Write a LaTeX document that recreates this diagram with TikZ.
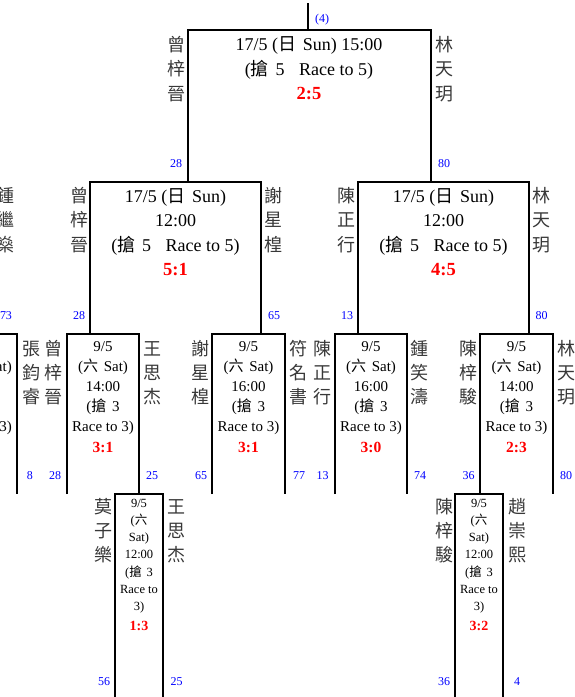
\documentclass[tikz,border=0pt]{standalone}
\usepackage{fontspec}
\setmainfont{Liberation Serif}
\newfontfamily\cjk{Noto Sans CJK TC}
\newcommand\cj[1]{{\cjk #1}\hspace{0.38em}}
\newcommand\vstack[6][]{%
  \foreach \lbl [count=\i from 0] in {#6}{%
    \node[anchor=base, inner sep=0pt, #1] (#2-\i) at ({#3},{#4+\i*#5}) {\lbl};}}
\newcommand\brk[5]{%
  \coordinate (#1-bl) at (#2,#5); \coordinate (#1-tl) at (#2,#4);
  \coordinate (#1-tr) at (#3,#4); \coordinate (#1-br) at (#3,#5);
  \draw[bracket] (#1-bl) -- (#1-tl) -- (#1-tr) -- (#1-br);}
\tikzset{
  bracket/.style={line width=2.6pt, line join=miter},
  bigtxt/.style={font=\fontsize{18}{18}\selectfont},
  midtxt/.style={font=\fontsize{15}{15}\selectfont},
  smalltxt/.style={font=\fontsize{12.5}{12.5}\selectfont},
  bigscore/.style={anchor=base, inner sep=0pt, font=\fontsize{18.5}{18.5}\selectfont\bfseries, text=red},
  midscore/.style={anchor=base, inner sep=0pt, font=\fontsize{15.5}{15.5}\selectfont\bfseries, text=red},
  smallscore/.style={anchor=base, inner sep=0pt, font=\fontsize{14}{14}\selectfont\bfseries, text=red},
  player/.style={font=\cjk\fontsize{18}{18}\selectfont, text=black!78},
  seed/.style={anchor=base, inner sep=0pt, font=\fontsize{12}{12}\selectfont, text=blue},
}
\begin{document}
\begin{tikzpicture}[x=1pt, y=-1pt]
\useasboundingbox (0,0) rectangle (574,697);
% champion (cut off at top)
\node[anchor=base, inner sep=0pt, font=\cjk\fontsize{26}{26}\selectfont] (champ) at (309,-2.6) {林天玥};
\coordinate (c4a) at (308,3); \coordinate (c4b) at (308,30);
\draw[bracket] (c4a) -- (c4b);
\node[seed, anchor=base west] (n4) at (315,22) {(4)};
% brackets
\brk{F}{188}{431}{30}{182}
\brk{SL}{90}{261}{182}{334}
\brk{SR}{358}{529}{182}{334}
\brk{QZ}{-60}{17}{334}{494}
\brk{QA}{67}{139}{334}{494}
\brk{QB}{212}{285}{334}{494}
\brk{QC}{335}{407}{334}{494}
\brk{QD}{480}{553}{334}{494}
\brk{RE}{115}{163}{494}{705}
\brk{RF}{455}{503}{494}{705}
% final
\vstack[bigtxt]{Ft}{309}{50}{25}{{17/5 (\cj{日}Sun) 15:00},{(\cj{搶}5\hspace{0.8em}Race to 5)}}
\node[bigscore] (Fs) at (309,99) {2:5};
\vstack[player]{FLp}{176}{51}{24.5}{曾,梓,晉}
\vstack[player]{FRp}{444}{51}{24.5}{林,天,玥}
\node[seed] (FLn) at (176,167) {28};
\node[seed] (FRn) at (444,167) {80};
% semi left
\vstack[bigtxt]{SLt}{175.5}{202}{24.5}{{17/5 (\cj{日}Sun)},{12:00},{(\cj{搶}5\hspace{0.8em}Race to 5)}}
\node[bigscore] (SLs) at (175.5,275) {5:1};
\vstack[player]{SZp}{6}{202}{24.5}{鍾,繼,燊}
\vstack[player]{SLp}{79.5}{202}{24.5}{曾,梓,晉}
\vstack[player]{SLq}{273.5}{202}{24.5}{謝,星,楻}
\node[seed] (SZn) at (6,319) {73};
\node[seed] (SLn) at (79,319) {28};
\node[seed] (SLm) at (274,319) {65};
% semi right
\vstack[bigtxt]{SRt}{443.5}{202}{24.5}{{17/5 (\cj{日}Sun)},{12:00},{(\cj{搶}5\hspace{0.8em}Race to 5)}}
\node[bigscore] (SRs) at (443.5,275) {4:5};
\vstack[player]{SRp}{346.5}{202}{24.5}{陳,正,行}
\vstack[player]{SRq}{541.5}{202}{24.5}{林,天,玥}
\node[seed] (SRn) at (347,319) {13};
\node[seed] (SRm) at (541.5,319) {80};
% quarter partial left
\node[midtxt, anchor=base east, inner sep=0pt] (QZa) at (12,371) {(\cj{六}Sat)};
\node[midtxt, anchor=base east, inner sep=0pt] (QZb) at (12,431) {Race to 3)};
% quarter A
\vstack[midtxt]{QAt}{103}{351}{20}{9/5,{(\cj{六}Sat)},14:00,{(\cj{搶}3},{Race to 3)}}
\node[midscore] (QAs) at (103,452) {3:1};
% quarter B
\vstack[midtxt]{QBt}{248.5}{351}{20}{9/5,{(\cj{六}Sat)},16:00,{(\cj{搶}3},{Race to 3)}}
\node[midscore] (QBs) at (248.5,452) {3:1};
% quarter C
\vstack[midtxt]{QCt}{371}{351}{20}{9/5,{(\cj{六}Sat)},16:00,{(\cj{搶}3},{Race to 3)}}
\node[midscore] (QCs) at (371,452) {3:0};
% quarter D
\vstack[midtxt]{QDt}{516.5}{351}{20}{9/5,{(\cj{六}Sat)},14:00,{(\cj{搶}3},{Race to 3)}}
\node[midscore] (QDs) at (516.5,452) {2:3};
% quarter players
\vstack[player]{Q1p}{31}{355}{24}{張,鈞,睿}
\vstack[player]{Q2p}{54}{355}{24}{曾,梓,晉}
\vstack[player]{Q3p}{152.5}{355}{24}{王,思,杰}
\vstack[player]{Q4p}{200.5}{355}{24}{謝,星,楻}
\vstack[player]{Q5p}{298.5}{355}{24}{符,名,書}
\vstack[player]{Q6p}{322}{355}{24}{陳,正,行}
\vstack[player]{Q7p}{419}{355}{24}{鍾,笑,濤}
\vstack[player]{Q8p}{468}{355}{24}{陳,梓,駿}
\vstack[player]{Q9p}{566}{355}{24}{林,天,玥}
\node[seed] (Q1n) at (30,479) {8};
\node[seed] (Q2n) at (55,479) {28};
\node[seed] (Q3n) at (152,479) {25};
\node[seed] (Q4n) at (201,479) {65};
\node[seed] (Q5n) at (299,479) {77};
\node[seed] (Q6n) at (322.5,479) {13};
\node[seed] (Q7n) at (420,479) {74};
\node[seed] (Q8n) at (468.5,479) {36};
\node[seed] (Q9n) at (566,479) {80};
% round E
\vstack[smalltxt]{REt}{139}{507}{17.3}{9/5,{({\cjk 六}},{Sat)},12:00,{(\cj{搶}3},{Race to},{3)}}
\node[smallscore] (REs) at (139,630) {1:3};
\vstack[player]{REp}{103}{513.5}{24}{莫,子,樂}
\vstack[player]{REq}{176.5}{513.5}{24}{王,思,杰}
\node[seed] (REn) at (104,685) {56};
\node[seed] (REm) at (176.5,685) {25};
% round F
\vstack[smalltxt]{RFt}{479}{507}{17.3}{9/5,{({\cjk 六}},{Sat)},12:00,{(\cj{搶}3},{Race to},{3)}}
\node[smallscore] (RFs) at (479,630) {3:2};
\vstack[player]{RFp}{444.5}{513.5}{24}{陳,梓,駿}
\vstack[player]{RFq}{517}{513.5}{24}{趙,崇,熙}
\node[seed] (RFn) at (444,685) {36};
\node[seed] (RFm) at (517,685) {4};
\end{tikzpicture}
\end{document}
